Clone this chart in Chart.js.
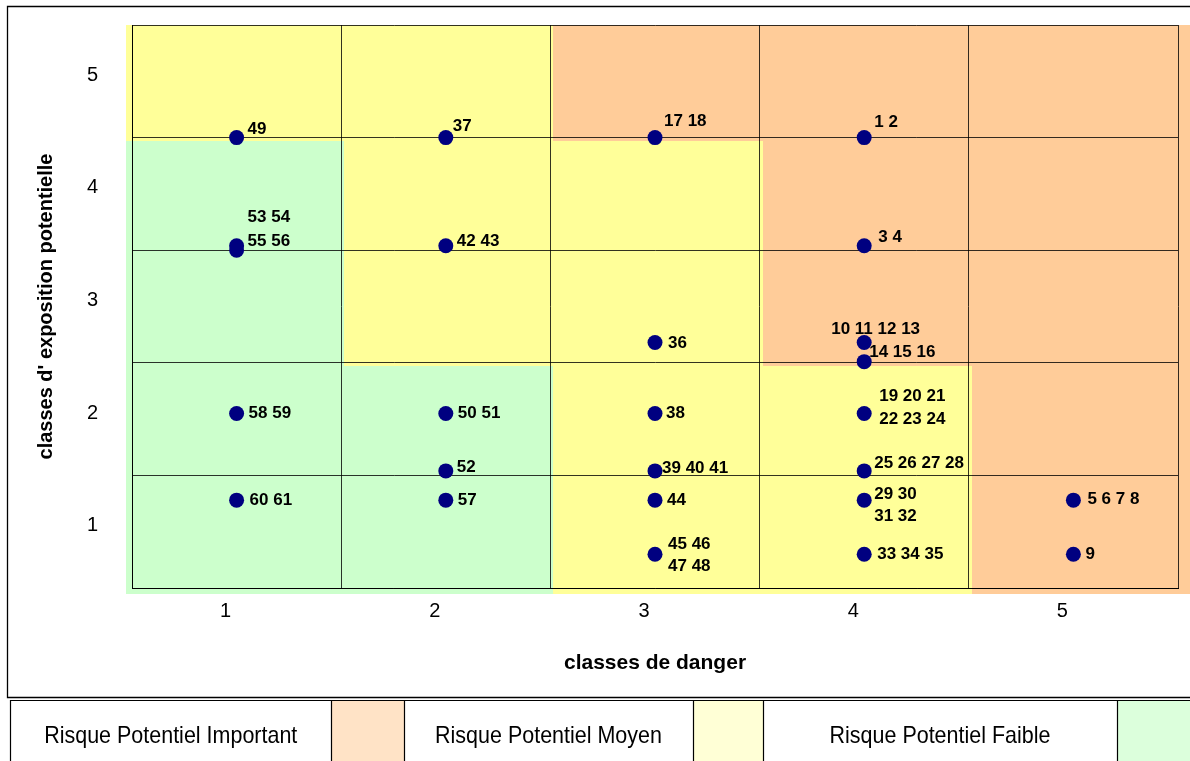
<!DOCTYPE html>
<html><head><meta charset="utf-8">
<script src="https://cdn.jsdelivr.net/npm/chart.js@4.4.0/dist/chart.umd.min.js"></script>
<style>html,body{margin:0;padding:0;background:#fff;overflow:hidden}canvas{display:block}</style>
</head><body>
<canvas id="c" width="1190" height="761"></canvas>
<script>
// ---- data ----
const xTickLabels = ['1','2','3','4','5'];
const yTickLabels = ['1','2','3','4','5'];
const xTitle = 'classes de danger';
const yTitle = "classes d' exposition potentielle";
const dangerClass   = [1,2,3,4, 1,1,2,4, 3,4,4, 1,2,3,4, 2,3,4, 1,2,3,4,5, 3,4,5];
const exposureClass = [4.5,4.5,4.5,4.5, 3.54,3.5,3.54,3.54, 2.68,2.68,2.51, 2.05,2.05,2.05,2.05, 1.54,1.54,1.54, 1.28,1.28,1.28,1.28,1.28, 0.8,0.8,0.8];
const pointLabels = ['49','37','17 18','1 2','53 54','55 56','42 43','3 4','36','10 11 12 13','14 15 16',
  '58 59','50 51','38','19 20 21\n22 23 24','52','39 40 41','25 26 27 28',
  '60 61','57','44','29 30\n31 32','5 6 7 8','45 46\n47 48','33 34 35','9'];
// risk level per cell: rows = exposure class 1..5, cols = danger class 1..5 (0 faible, 1 moyen, 2 important)
const riskLevels = [
  [0,0,1,1,2],
  [0,0,1,1,2],
  [0,1,1,2,2],
  [0,1,1,2,2],
  [1,1,2,2,2]
];
const legendLabels = ['Risque Potentiel Important','Risque Potentiel Moyen','Risque Potentiel Faible'];
const legendLevels = [2,1,0];

// ---- styles ----
const FONT = '"Liberation Sans", Arial, sans-serif';
const zoneColors = {0:'#CCFFCC',1:'#FFFF99',2:'#FFCC99'};
const swatchColors = {0:'#DCFFDC',1:'#FFFFD6',2:'#FFE3C6'};
// label offsets (px) from the marker: [dx to text start, dy of first line]
const labelOffsets = [[11,-8],[7,-11],[9,-16],[10,-15],[11,-28],[11,-9],[11,-4],[14,-8.5],[13,1],[-33,-13],[5,-9],
  [12,0],[12,0],[11,0],[15,-17],[11,-4],[7,-3],[10,-8],
  [13,0],[12,0],[12,0],[10,-6],[14,-1],[13,-10],[13,0],[12,0]];

Chart.defaults.font.family = FONT;
Chart.defaults.color = '#000';

const zonesPlugin = {
  id:'zones',
  beforeDraw(chart){
    const {ctx, chartArea:a, scales:{x,y}} = chart;
    ctx.save();
    for (let r=1;r<=5;r++) for (let c=1;c<=5;c++){
      const lvl = riskLevels[r-1][c-1];
      const x0 = Math.round(c===1 ? a.left-6 : x.getPixelForValue(c-0.5)+3);
      const x1 = Math.round(c===5 ? chart.width : x.getPixelForValue(c+0.5)+3);
      const y0 = Math.round(r===5 ? a.top : y.getPixelForValue(r+0.5)+3);
      const y1 = Math.round(r===1 ? a.bottom+6 : y.getPixelForValue(r-0.5)+3);
      ctx.fillStyle = zoneColors[lvl];
      ctx.fillRect(x0,y0,x1-x0,y1-y0);
    }
    ctx.restore();
  }
};

const labelsPlugin = {
  id:'ptlabels',
  beforeDatasetsDraw(chart){
    const {ctx} = chart;
    const meta = chart.getDatasetMeta(0);
    ctx.save();
    ctx.font = 'bold 17px ' + FONT;
    ctx.fillStyle = '#000';
    ctx.textBaseline = 'middle';
    ctx.textAlign = 'left';
    meta.data.forEach((pt,i)=>{
      const lines = pointLabels[i].split('\n');
      const [dx,dy] = labelOffsets[i];
      lines.forEach((t,k)=>ctx.fillText(t, pt.x+dx, pt.y+dy+k*22.5));
    });
    ctx.restore();
  }
};

const frameLegendPlugin = {
  id:'frameLegend',
  afterDraw(chart){
    const {ctx} = chart;
    const W = chart.width;
    ctx.save();
    ctx.strokeStyle = '#000';
    ctx.lineWidth = 1.3;
    ctx.beginPath();
    ctx.moveTo(W,6.5); ctx.lineTo(7.5,6.5); ctx.lineTo(7.5,697.5); ctx.lineTo(W,697.5);
    ctx.stroke();
    // legend row
    const top = 700.5, bot = 761;
    const textCells = [[10.5,331],[404,693],[763,1117]];
    const swatchCells = [[331,404],[693,763],[1117,W]];
    swatchCells.forEach((s,i)=>{
      ctx.fillStyle = swatchColors[legendLevels[i]];
      ctx.fillRect(s[0],top,s[1]-s[0],bot-top);
    });
    ctx.lineWidth = 1.2;
    ctx.beginPath();
    ctx.moveTo(10.5,bot); ctx.lineTo(10.5,top); ctx.lineTo(W,top);
    [331,404,693,763,1117].forEach(xv=>{ctx.moveTo(xv+0.5,top); ctx.lineTo(xv+0.5,bot);});
    ctx.stroke();
    ctx.fillStyle = '#000';
    ctx.font = '24px ' + FONT;
    ctx.textAlign = 'center';
    ctx.textBaseline = 'alphabetic';
    textCells.forEach((c,i)=>{
      ctx.save();
      ctx.translate((c[0]+c[1])/2, 743);
      ctx.scale(0.895,1);
      ctx.fillText(legendLabels[i],0,0);
      ctx.restore();
    });
    ctx.restore();
  }
};

const gridColor = c => (c.tick && !Number.isInteger(c.tick.value)) ? 'rgba(0,0,0,0.8)' : 'rgba(0,0,0,0)';

new Chart(document.getElementById('c'), {
  type:'scatter',
  data:{datasets:[{
    data: dangerClass.map((d,i)=>({x:d, y:exposureClass[i]})),
    pointRadius:7.5, pointHoverRadius:7.5,
    backgroundColor:'#000080', borderColor:'#000080', borderWidth:0
  }]},
  options:{
    responsive:false, animation:false, events:[],
    layout:{padding:{left:0, top:25, right:12, bottom:73}},
    plugins:{legend:{display:false}, tooltip:{enabled:false}},
    scales:{
      x:{
        type:'linear', min:0.5, max:5.5,
        afterFit(s){ s.height = 100; s.paddingLeft = 0; s.paddingRight = 0; },
        ticks:{stepSize:0.5, autoSkip:false, maxRotation:0, padding:11, labelOffset:-11,
          font:{size:20}, color:'#000',
          callback:v => Number.isInteger(v) ? xTickLabels[v-1] : ''},
        grid:{drawTicks:false, color:gridColor, lineWidth:1},
        border:{display:true, color:'#000'},
        title:{display:true, text:xTitle, color:'#000', font:{size:21, weight:'bold'}, padding:{top:0,bottom:12}}
      },
      y:{
        type:'linear', min:0.5, max:5.5,
        afterFit(s){ s.width = 132; s.paddingTop = 0; s.paddingBottom = 0; },
        ticks:{stepSize:0.5, autoSkip:false, padding:34, labelOffset:-6,
          font:{size:20}, color:'#000',
          callback:v => Number.isInteger(v) ? yTickLabels[v-1] : ''},
        grid:{drawTicks:false, color:gridColor, lineWidth:1},
        border:{display:true, color:'#000'},
        title:{display:true, text:yTitle, color:'#000', font:{size:20, weight:'bold'}, padding:{top:34,bottom:0}}
      }
    }
  },
  plugins:[zonesPlugin, labelsPlugin, frameLegendPlugin]
});
</script>
</body></html>
